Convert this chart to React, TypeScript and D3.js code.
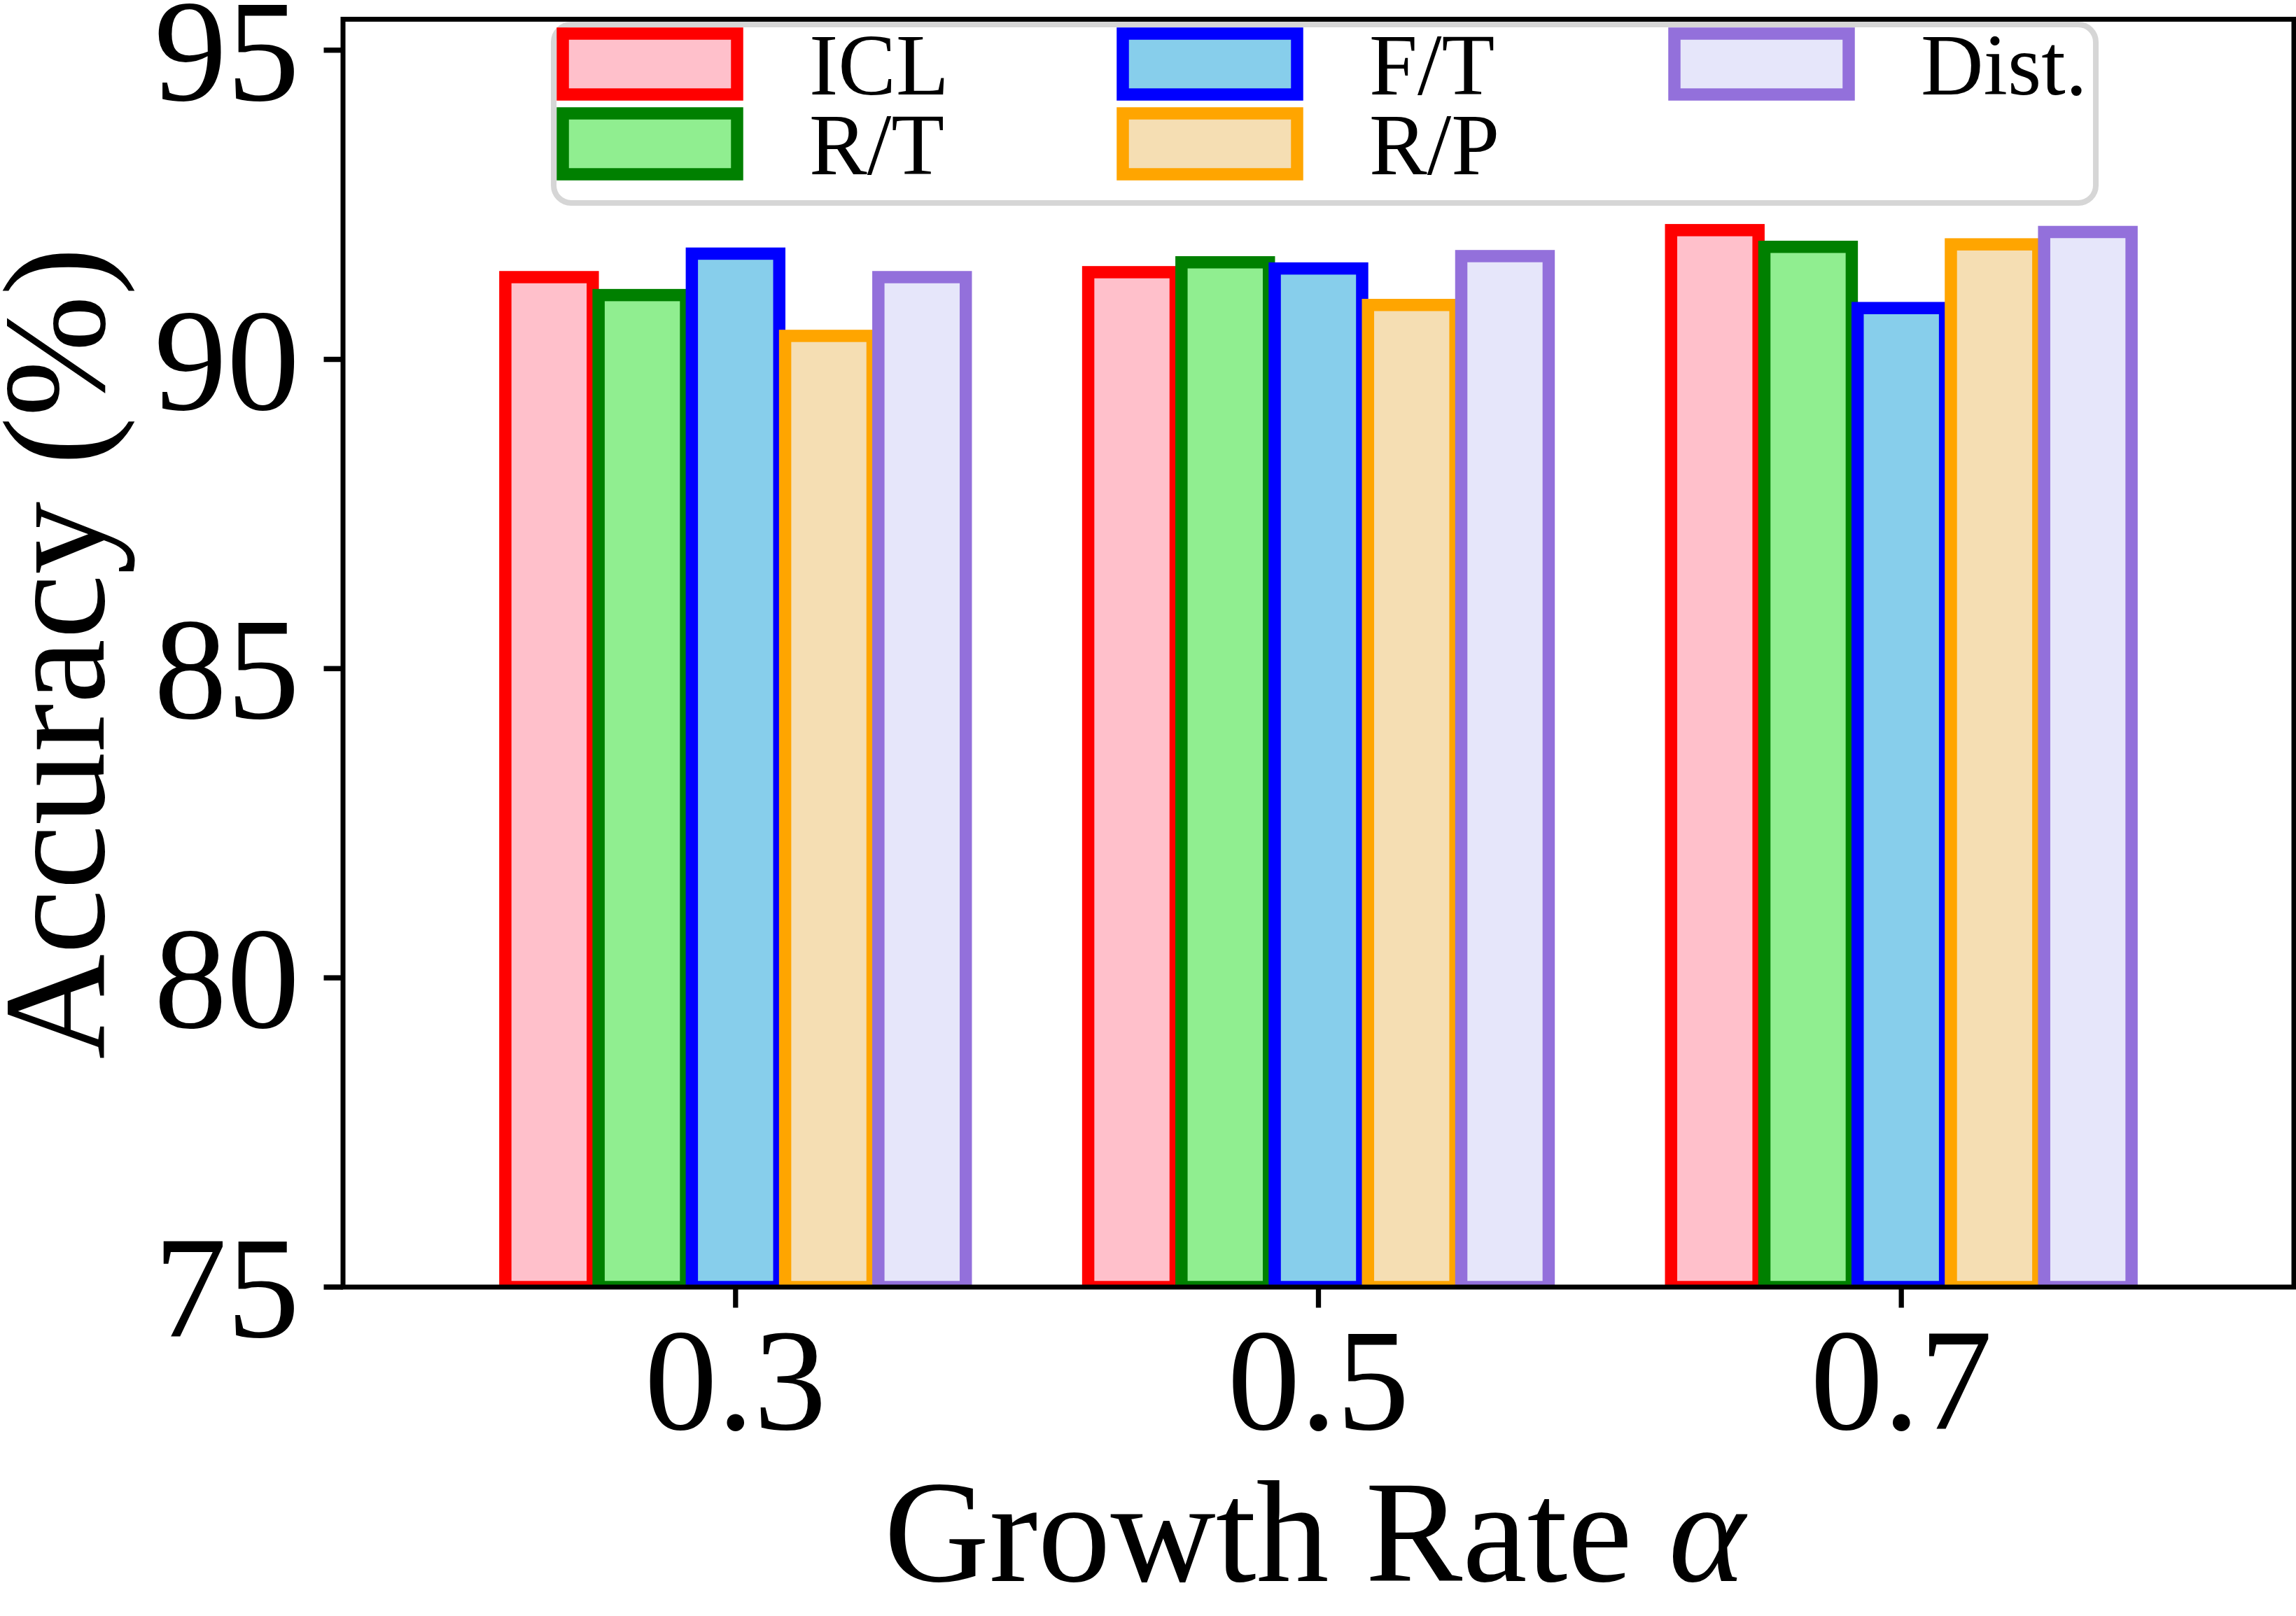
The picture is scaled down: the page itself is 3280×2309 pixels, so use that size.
import { scaleBand, scaleLinear, scalePoint } from 'd3';

const categories = ['0.3', '0.5', '0.7'];
const seriesNames = ['ICL', 'R/T', 'F/T', 'R/P', 'Dist.'];

// accuracy (%) per growth rate
const iclValues = [91.33, 91.41, 92.09];
const rtValues = [91.04, 91.57, 91.82];
const ftValues = [91.71, 91.47, 90.83];
const rpValues = [90.38, 90.88, 91.86];
const distValues = [91.33, 91.67, 92.06];

const yTicks = [75, 80, 85, 90, 95];

const fills = ['#FFC0CB', '#90EE90', '#87CEEB', '#F5DEB3', '#E6E6FA'];
const edges = ['#FF0000', '#008000', '#0000FF', '#FFA500', '#9370DB'];

const W = 3280;
const H = 2309;
const FONT = '"Liberation Serif", "Times New Roman", serif';

export default function App() {
  const left = 490;
  const right = 3277;
  const top = 27.5;
  const bottom = 1839;

  const values = [iclValues, rtValues, ftValues, rpValues, distValues];

  const y = scaleLinear().domain([75, 95.5]).range([bottom, top]);
  const x = scalePoint<string>().domain(categories).range([left, right]).padding(0.6735);
  const step = x.step();
  const inner = scaleBand<string>()
    .domain(seriesNames)
    .range([-0.4 * step, 0.4 * step])
    .paddingInner(0.0625)
    .paddingOuter(0.03125);

  const barStroke = 17.5;
  const spine = 7;

  // legend layout (ncol=3, filled column-first like matplotlib)
  const legendCols = [804, 1604, 2392];
  const legendRows = [48, 162];
  const handleW = 249;
  const handleH = 87;

  return (
    <svg
      width={W}
      height={H}
      viewBox={`0 0 ${W} ${H}`}
      style={{ position: 'absolute', left: 0, top: 0, display: 'block', background: '#fff' }}
    >
      <defs>
        <clipPath id="plot-clip">
          <rect x={left} y={top} width={right - left} height={bottom - top} />
        </clipPath>
      </defs>
      <rect x={0} y={0} width={W} height={H} fill="#fff" />

      <g clipPath="url(#plot-clip)">
        {values.map((vals, si) =>
          vals.map((v, ci) => {
            const cx = (x(categories[ci]) ?? 0) + (inner(seriesNames[si]) ?? 0);
            return (
              <rect
                key={`${si}-${ci}`}
                x={cx}
                y={y(v)}
                width={inner.bandwidth()}
                height={y(75) - y(v)}
                fill={fills[si]}
                stroke={edges[si]}
                strokeWidth={barStroke}
              />
            );
          }),
        )}
      </g>

      {/* spines */}
      <rect
        x={left}
        y={top}
        width={right - left}
        height={bottom - top}
        fill="none"
        stroke="#000"
        strokeWidth={spine}
      />

      {/* y ticks */}
      {yTicks.map((t) => (
        <g key={t}>
          <line x1={left - spine / 2 - 24} x2={left} y1={y(t)} y2={y(t)} stroke="#000" strokeWidth={7.5} />
          <text
            x={428}
            y={y(t) + 71}
            textAnchor="end"
            fontFamily={FONT}
            fontSize={208}
            fill="#000"
          >
            {t}
          </text>
        </g>
      ))}

      {/* x ticks */}
      {categories.map((c) => (
        <g key={c}>
          <line
            x1={x(c)}
            x2={x(c)}
            y1={bottom}
            y2={bottom + spine / 2 + 26}
            stroke="#000"
            strokeWidth={7.3}
          />
          <text x={x(c)} y={2042} textAnchor="middle" fontFamily={FONT} fontSize={208} fill="#000">
            {c}
          </text>
        </g>
      ))}

      {/* axis labels */}
      <text
        transform={`translate(148, ${(top + bottom) / 2}) rotate(-90)`}
        textAnchor="middle"
        fontFamily={FONT}
        fontSize={208}
        fill="#000"
      >
        Accuracy (%)
      </text>
      <text x={1878} y={2259} textAnchor="middle" fontFamily={FONT} fontSize={208} fill="#000">
        Growth Rate <tspan fontStyle="italic">α</tspan>
      </text>

      {/* legend */}
      <rect
        x={791}
        y={35}
        width={2203}
        height={255}
        rx={25}
        ry={25}
        fill="#fff"
        fillOpacity={0.8}
        stroke="#d6d6d6"
        strokeWidth={8}
      />
      {seriesNames.map((name, i) => {
        const col = Math.floor(i / 2);
        const row = i % 2;
        const hx = legendCols[col];
        const hy = legendRows[row];
        return (
          <g key={name}>
            <rect
              x={hx}
              y={hy}
              width={handleW}
              height={handleH}
              fill={fills[i]}
              stroke={edges[i]}
              strokeWidth={barStroke}
            />
            <text x={hx + 352} y={hy + handleH} fontFamily={FONT} fontSize={124} fill="#000">
              {name}
            </text>
          </g>
        );
      })}
    </svg>
  );
}
